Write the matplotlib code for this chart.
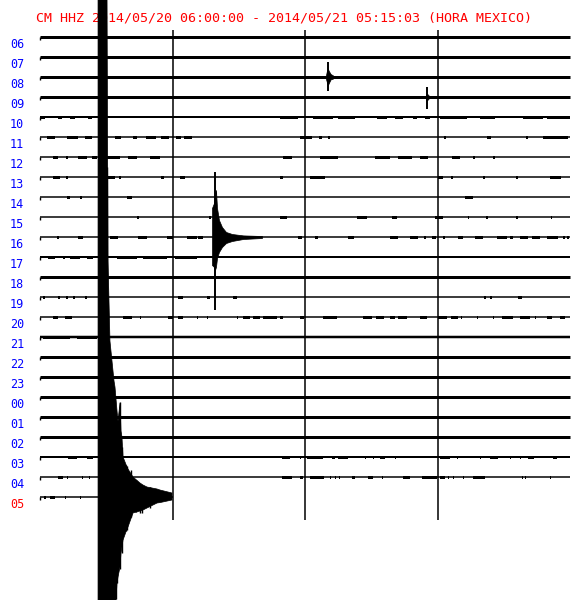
import numpy as np
import matplotlib.pyplot as plt

# Helicorder CM HHZ, one trace per hour, x in minutes past the hour
hours = ["06", "07", "08", "09", "10", "11", "12", "13", "14", "15", "16", "17",
         "18", "19", "20", "21", "22", "23", "00", "01", "02", "03", "04", "05"]
last_minute = 15.05  # record stops at 05:15:03

# trace thickness in pixels
line_px = [3, 3, 3, 3, 2, 1.5, 1.5, 1.5, 1.5, 1.5, 1.5, 2,
           3, 1.5, 1.5, 2.5, 3, 3, 3, 3, 3, 2, 1.5, 1.5]

# small noise bursts (start, end) in minutes, per trace index
blips = {
    4: [(0.0, 0.6), (2.0, 2.5), (3.4, 4.0), (5.4, 5.9), (27.2, 29.2), (30.9, 33.2), (33.7, 35.7),
        (38.2, 39.3), (40.2, 41.1), (42.2, 42.7), (43.6, 44.2), (45.3, 48.3), (49.8, 51.5),
        (54.7, 56.9), (57.4, 60.0)],
    5: [(0.8, 1.7), (3.1, 4.3), (5.1, 5.9), (8.5, 9.2), (10.5, 11.0), (12.0, 13.1), (13.7, 14.6),
        (15.4, 16.0), (16.3, 17.2), (29.4, 30.8), (31.6, 31.9), (32.6, 32.8), (45.7, 46.0),
        (50.6, 51.0), (55.0, 55.3), (56.9, 59.8)],
    6: [(1.5, 2.0), (2.9, 3.2), (4.3, 5.3), (5.9, 6.5), (7.6, 9.1), (10.0, 11.0), (12.5, 13.6),
        (27.5, 28.5), (31.7, 33.7), (37.9, 39.6), (40.5, 42.1), (43.0, 43.9), (46.6, 47.5),
        (49.0, 49.3), (51.3, 51.5)],
    7: [(1.5, 2.3), (2.9, 3.2), (7.7, 8.5), (8.9, 9.2), (13.7, 14.0), (15.8, 16.4), (27.2, 27.5),
        (30.6, 32.3), (45.1, 45.6), (46.5, 46.8), (50.1, 50.4), (53.9, 54.1), (57.7, 59.0)],
    8: [(3.1, 3.4), (4.5, 4.8), (9.8, 10.4), (48.1, 49.0)],
    9: [(11.0, 11.2), (19.1, 19.4), (27.2, 28.0), (35.9, 37.0), (39.8, 40.4), (44.7, 45.6),
        (48.4, 48.6), (50.5, 50.7), (53.9, 54.1), (57.8, 58.0)],
    10: [(1.9, 2.2), (4.3, 4.9), (7.9, 8.8), (11.1, 12.1), (14.4, 15.1), (16.6, 17.8), (17.9, 18.4),
         (29.2, 29.7), (31.1, 31.5), (34.9, 35.5), (39.6, 40.5), (41.9, 42.8), (43.5, 43.7),
         (44.4, 44.8), (45.6, 45.8), (47.3, 47.9), (49.3, 50.2), (51.7, 52.9), (53.2, 53.6),
         (54.3, 55.3), (55.7, 56.6), (57.4, 58.6), (59.2, 59.4), (59.7, 59.9)],
    11: [(0.9, 1.7), (2.6, 2.8), (3.4, 4.5), (5.3, 6.0), (8.7, 11.0), (11.7, 14.4), (15.3, 17.8)],
    13: [(0.3, 0.6), (2.0, 2.3), (2.9, 3.2), (3.7, 4.0), (5.1, 5.3), (15.6, 16.2), (18.9, 19.2),
         (21.8, 22.3), (50.3, 50.5), (50.9, 51.2), (54.1, 54.6)],
    14: [(1.5, 2.0), (2.8, 3.6), (9.4, 10.4), (11.3, 11.4), (14.5, 15.1), (15.6, 16.2), (17.8, 17.9),
         (18.9, 19.0), (22.3, 22.4), (23.0, 23.8), (24.1, 24.9), (25.3, 26.8), (27.2, 27.5),
         (29.4, 29.9), (32.0, 33.6), (36.6, 37.6), (38.0, 38.9), (39.6, 40.2), (40.5, 41.5),
         (43.0, 43.8), (45.1, 46.1), (46.5, 47.3), (47.7, 47.8), (49.5, 49.6), (51.3, 51.4),
         (52.3, 53.5), (54.3, 55.5), (56.0, 56.1), (57.4, 58.0), (58.9, 59.4)],
    15: [(0.3, 3.4), (4.2, 6.5)],
    21: [(3.2, 4.2), (5.3, 6.0), (27.4, 28.3), (29.4, 29.5), (30.2, 32.0), (33.1, 33.4), (33.7, 34.9),
         (36.8, 36.9), (37.7, 37.8), (38.5, 39.1), (40.2, 40.3), (45.3, 46.4), (47.2, 47.3),
         (49.8, 49.9), (50.9, 51.8), (53.2, 53.3), (54.3, 54.4), (55.3, 55.9), (58.1, 58.5)],
    22: [(2.0, 2.6), (3.1, 3.2), (4.8, 4.9), (5.6, 5.7), (27.4, 28.5), (29.4, 29.8), (30.6, 32.1),
         (32.8, 32.9), (33.4, 33.5), (33.9, 34.0), (34.7, 34.8), (35.3, 35.7), (37.1, 37.7),
         (38.7, 38.8), (39.8, 39.9), (41.1, 41.9), (42.4, 42.5), (43.3, 44.9), (45.3, 45.9),
         (46.2, 46.3), (46.8, 46.9), (47.9, 48.0), (49.0, 50.4), (53.5, 53.6), (54.6, 54.7),
         (54.9, 55.0), (57.7, 57.8)],
    23: [(0.5, 0.7), (1.1, 1.7), (2.8, 2.9), (4.5, 4.6)],
}

# big earthquake on the 05 trace (amplitude in trace spacings, + is up)
main_line = 23
main_t = [6.57, 7.58, 7.70, 7.92, 8.38, 8.49, 8.72, 8.83, 9.06, 9.17, 9.28, 9.40,
          9.85, 9.96, 10.53, 11.32, 11.66, 12.11, 13.25, 13.58, 14.94]
main_up = [26, 26, 11.8, 7.8, 5.8, 5.5, 4.3, 3.8, 4.7, 3.3, 3.0, 2.0,
           1.5, 1.4, 1.0, 0.7, 0.6, 0.5, 0.4, 0.35, 0.2]
main_lo = [-6, -6, -6, -6, -6, -6, -4.3, -4.0, -3.5, -2.8, -2.5, -2.15,
           -1.6, -1.5, -0.8, -0.7, -0.65, -0.55, -0.3, -0.28, -0.15]
main_spk_t = [7.62, 8.60, 8.75, 9.06, 9.30, 9.70, 9.85, 10.35, 10.9, 11.30, 11.6, 12.4]
main_spk_up = [16.5, 3.0, 3.5, 4.75, 2.5, 1.6, 1.55, 1.35, 0.85, 0.6, 0.6, 0.5]
main_spk_lo = [-3.0, -5.1, -4.3, -3.6, -2.8, -1.7, -1.65, -1.0, -0.75, -0.8, -0.8, -0.55]

# local event on the 16 trace
ev2_line = 10
ev2_t = [19.47, 19.70, 19.81, 19.92, 20.04, 20.26, 20.60, 21.06, 21.74, 23.0, 25.13]
ev2_up = [1.45, 1.7, 2.0, 2.35, 1.45, 0.85, 0.5, 0.25, 0.15, 0.08, 0.05]
ev2_lo = [-1.4, -1.5, -1.65, -1.5, -1.05, -0.75, -0.5, -0.3, -0.2, -0.1, -0.05]
ev2_spike = (19.81, 3.25, -3.65)

# small events on 08 and 09 traces
ev3_line = 2
ev3_t = [32.38, 32.5, 32.6, 32.7, 32.9, 33.17]
ev3_up = [0.1, 0.35, 0.4, 0.3, 0.15, 0.08]
ev3_lo = [-0.1, -0.3, -0.4, -0.3, -0.12, -0.08]
ev3_spike = (32.6, 0.75, -0.7)

ev4_line = 3
ev4_t = [43.7, 43.85, 44.0]
ev4_up = [0.1, 0.15, 0.08]
ev4_lo = [-0.1, -0.15, -0.08]
ev4_spike = (43.78, 0.5, -0.6)

title = "CM HHZ 2014/05/20 06:00:00 - 2014/05/21 05:15:03 (HORA MEXICO)"

fig = plt.figure(figsize=(5.8, 6.0), dpi=100)
ax = fig.add_axes([0, 0, 1, 1])
ax.set_xlim(-40 / 530 * 60, 60 + 10 / 530 * 60)
ax.set_ylim(28.15, -1.85)
ax.axis("off")

ax.text(36 / 580, 1 - 18 / 600, title, transform=ax.transAxes, color="red",
        family="DejaVu Sans Mono", fontsize=9.6, ha="left", va="center", zorder=0.5)

px = 0.72
for i, h in enumerate(hours):
    xend = last_minute if i == len(hours) - 1 else 60
    ax.hlines(i, 0, xend, color="black", lw=line_px[i] * px, zorder=1)
    ax.vlines(0, i, i + 0.17, color="black", lw=1.0, zorder=1)
    ax.text(-3.4, i + 0.35, h, color="red" if i == len(hours) - 1 else "blue",
            family="DejaVu Sans Mono", fontsize=8.5, ha="left", va="center")
    if i in blips:
        segs = [(a, b - a) for a, b in blips[i]]
        ax.broken_barh(segs, (i - 0.075, 0.15), facecolors="black", zorder=1)

# hour quarters
ax.vlines([15, 30, 45], -0.35, 24.15, color="black", lw=1.1, zorder=1)


def draw_event(line, t, up, lo, spike=None):
    t = np.array(t)
    ax.fill_between(t, line - np.array(up), line - np.array(lo),
                    color="black", lw=0.5, zorder=2)
    if spike is not None:
        ax.vlines(spike[0], line - spike[1], line - spike[2], color="black", lw=1.4, zorder=2)


draw_event(main_line, main_t, main_up, main_lo)
ax.vlines(main_spk_t, main_line - np.array(main_spk_up), main_line - np.array(main_spk_lo),
          color="black", lw=1.0, zorder=2)
draw_event(ev2_line, ev2_t, ev2_up, ev2_lo, ev2_spike)
draw_event(ev3_line, ev3_t, ev3_up, ev3_lo, ev3_spike)
draw_event(ev4_line, ev4_t, ev4_up, ev4_lo, ev4_spike)

fig.savefig("out.png", dpi=100, facecolor="white")
